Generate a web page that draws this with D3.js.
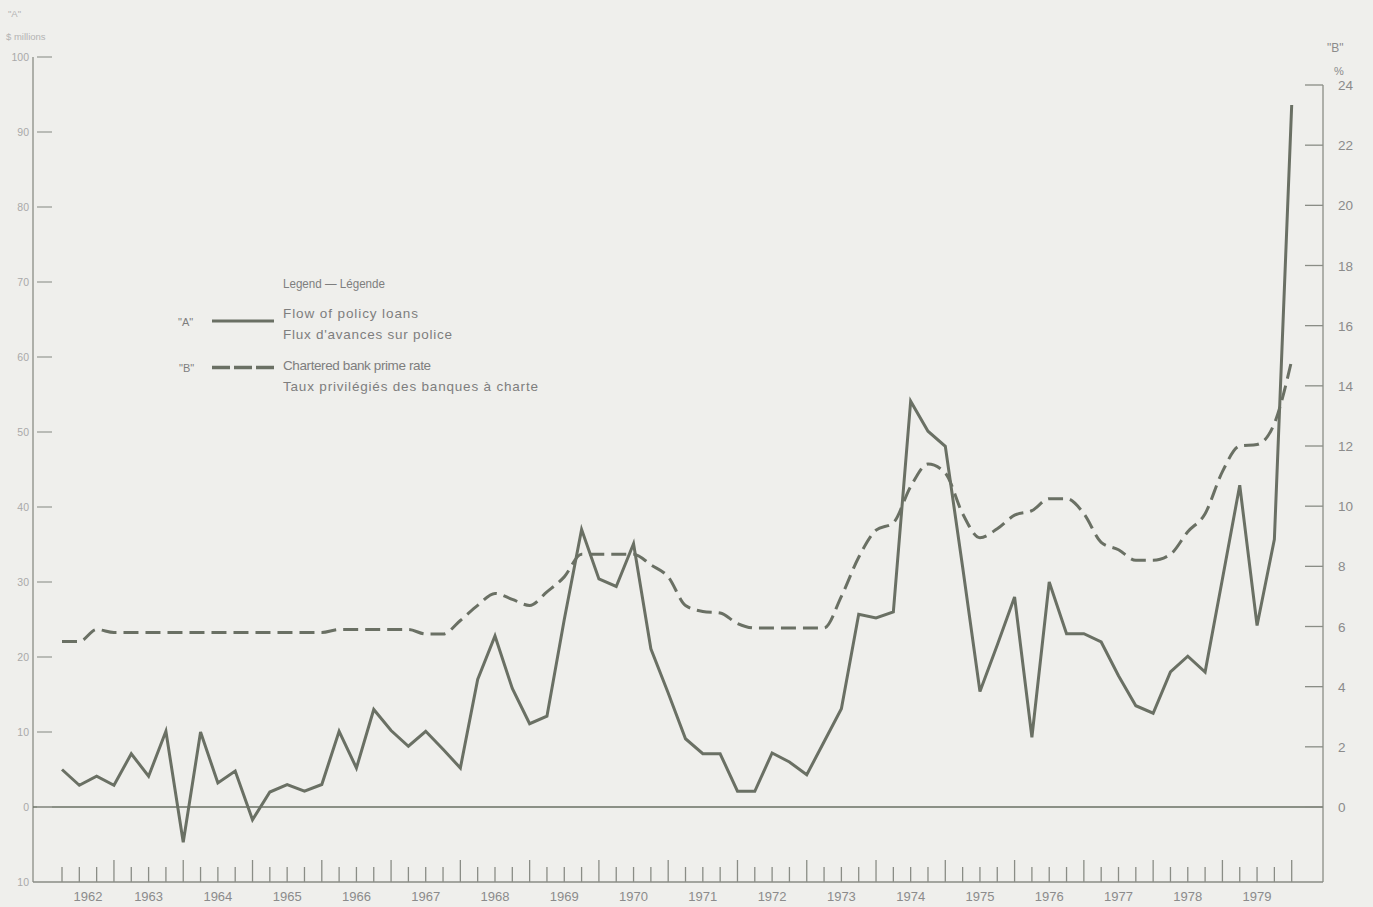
<!DOCTYPE html>
<html>
<head>
<meta charset="utf-8">
<script src="https://cdn.jsdelivr.net/npm/d3@7"></script>
<style>
  html, body { margin: 0; padding: 0; background: #efefec; }
  svg { display: block; }
  text { font-family: "Liberation Sans", Arial, Helvetica, sans-serif; }
</style>
</head>
<body>
<svg id="chart" width="1373" height="907"></svg>
<script>
// ---- Data (quarterly, 1962 Q1 – 1979 Q4) ----
const years = [1962,1963,1964,1965,1966,1967,1968,1969,1970,1971,1972,1973,1974,1975,1976,1977,1978,1979];
const quarterNames = ["Q1","Q2","Q3","Q4"];

// "A" Flow of policy loans, $ millions
const flowA = [
  5.0, 2.9, 4.1, 2.9,   7.1, 4.1, 10.1, -4.7,  10.0, 3.2, 4.8, -1.7,
  2.0, 3.0, 2.1, 3.0,   10.1, 5.2, 13.0, 10.2, 8.1, 10.1, 7.7, 5.2,
  17.0, 22.8, 15.8, 11.1, 12.1, 25.0, 37.0, 30.4, 29.4, 35.1, 21.1, 15.2,
  9.1, 7.1, 7.1, 2.1,   2.1, 7.2, 6.0, 4.3,   8.7, 13.1, 25.7, 25.2,
  26.0, 54.1, 50.1, 48.1, 32.0, 15.4, 21.6, 28.0, 9.3, 30.0, 23.1, 23.1,
  22.0, 17.5, 13.5, 12.5, 18.0, 20.1, 18.0, 30.4, 42.9, 24.2, 35.7, 93.6
];

// "B" Chartered bank prime rate, %
const primeB = [
  5.5, 5.5, 5.9, 5.8,   5.8, 5.8, 5.8, 5.8,   5.8, 5.8, 5.8, 5.8,
  5.8, 5.8, 5.8, 5.8,   5.9, 5.9, 5.9, 5.9,   5.9, 5.75, 5.75, 6.2,
  6.7, 7.1, 6.9, 6.7,   7.15, 7.65, 8.4, 8.4, 8.4, 8.4, 8.05, 7.65,
  6.7, 6.5, 6.45, 6.1,  5.95, 5.95, 5.95, 5.95, 5.95, 7.0, 8.3, 9.2,
  9.45, 10.65, 11.4, 11.1, 9.75, 8.95, 9.25, 9.7, 9.85, 10.25, 10.25, 9.75,
  8.8, 8.55, 8.2, 8.2,  8.4, 9.15, 9.75, 11.15, 12.0, 12.05, 12.75, 14.85
];

const leftTicks = [100, 90, 80, 70, 60, 50, 40, 30, 20, 10, 0, -10];
const leftTickLabels = ["100","90","80","70","60","50","40","30","20","10","0","10"];
const rightTicks = [24, 22, 20, 18, 16, 14, 12, 10, 8, 6, 4, 2, 0];

const legendTitle = "Legend — Légende";
const legendA = ["Flow of policy loans", "Flux d'avances sur police"];
const legendB = ["Chartered bank prime rate", "Taux privilégiés des banques à charte"];

// Period positions: end of each quarter
const periods = [];
years.forEach(y => quarterNames.forEach((q, qi) => periods.push({ year: y, q: q, t: y + (qi + 1) / 4 })));

// ---- Layout ----
const svg = d3.select("#chart");
const lineColor = "#6a7064";
const axisColor = "#8a8d86";
const textColor = "#8b8b8b";

const xLeft = 33, xRight = 1323, yBottom = 882;
const x = d3.scaleLinear().domain([1962.25, 1980.0]).range([62, 1291.7]);
const yL = d3.scaleLinear().domain([-10, 100]).range([yBottom, 57]);
const yR = d3.scaleLinear().domain([0, 24]).range([807, 85]);

// ---- Axes frame ----
svg.append("line").attr("x1", xLeft).attr("x2", xLeft).attr("y1", yL(100)).attr("y2", yBottom)
  .attr("stroke", axisColor).attr("stroke-width", 1.3);
svg.append("line").attr("x1", xRight).attr("x2", xRight).attr("y1", yR(24)).attr("y2", yBottom)
  .attr("stroke", axisColor).attr("stroke-width", 1.3);
svg.append("line").attr("x1", xLeft).attr("x2", xRight).attr("y1", yBottom).attr("y2", yBottom)
  .attr("stroke", axisColor).attr("stroke-width", 1.5);
svg.append("line").attr("x1", xLeft).attr("x2", xRight).attr("y1", yL(0)).attr("y2", yL(0))
  .attr("stroke", lineColor).attr("stroke-width", 1.6);

// Left axis ticks and labels
const gL = svg.append("g");
gL.selectAll("line.lt").data(leftTicks.filter(v => v >= 0)).enter().append("line")
  .attr("x1", xLeft + 4).attr("x2", xLeft + 19)
  .attr("y1", d => yL(d)).attr("y2", d => yL(d))
  .attr("stroke", "#a3a59f").attr("stroke-width", 1.4);
gL.selectAll("text").data(leftTicks).enter().append("text")
  .attr("x", 29).attr("y", d => yL(d) + 4)
  .attr("text-anchor", "end").attr("font-size", 10.5).attr("fill", "#a9a9a9")
  .text((d, i) => leftTickLabels[i]);

// Right axis ticks and labels
const gR = svg.append("g");
gR.selectAll("line").data(rightTicks).enter().append("line")
  .attr("x1", xRight - 18).attr("x2", xRight)
  .attr("y1", d => yR(d)).attr("y2", d => yR(d))
  .attr("stroke", axisColor).attr("stroke-width", 1.3);
gR.selectAll("text").data(rightTicks).enter().append("text")
  .attr("x", 1338).attr("y", d => yR(d) + 5)
  .attr("text-anchor", "start").attr("font-size", 13.5).attr("fill", textColor)
  .text(d => d);

// Axis titles
svg.append("text").attr("x", 8).attr("y", 17).attr("font-size", 9.5).attr("fill", "#b3b3b3").text('"A"');
svg.append("text").attr("x", 6).attr("y", 40).attr("font-size", 9.5).attr("fill", "#b3b3b3").text("$ millions");
svg.append("text").attr("x", 1327).attr("y", 52).attr("font-size", 12).attr("fill", textColor).text('"B"');
svg.append("text").attr("x", 1334).attr("y", 75).attr("font-size", 11).attr("fill", textColor).text("%");

// Bottom quarterly ticks
const gX = svg.append("g");
gX.selectAll("line").data(periods).enter().append("line")
  .attr("x1", d => x(d.t)).attr("x2", d => x(d.t))
  .attr("y1", yBottom).attr("y2", d => d.q === "Q4" ? yBottom - 22 : yBottom - 15)
  .attr("stroke", axisColor).attr("stroke-width", 1.3);
gX.selectAll("text").data(years).enter().append("text")
  .attr("x", d => x((Math.max(d, 1962.25) + d + 1) / 2))
  .attr("y", 901).attr("text-anchor", "middle").attr("font-size", 13).attr("fill", textColor)
  .text(d => d);

// ---- Series ----
const lineA = d3.line().x((d, i) => x(periods[i].t)).y(d => yL(d)).curve(d3.curveLinear);
const lineB = d3.line().x((d, i) => x(periods[i].t)).y(d => yR(d)).curve(d3.curveMonotoneX);

svg.append("path").datum(primeB).attr("d", lineB)
  .attr("fill", "none").attr("stroke", lineColor).attr("stroke-width", 3)
  .attr("stroke-dasharray", "15,7");
svg.append("path").datum(flowA).attr("d", lineA)
  .attr("fill", "none").attr("stroke", lineColor).attr("stroke-width", 3)
  .attr("stroke-linejoin", "miter").attr("stroke-miterlimit", 4);

// ---- Legend ----
const lg = svg.append("g").attr("font-size", 13.5).attr("fill", "#7e7e7e");
lg.append("text").attr("x", 283).attr("y", 288).attr("font-size", 12.5)
  .attr("textLength", 102).attr("lengthAdjust", "spacingAndGlyphs").text(legendTitle);
lg.append("text").attr("x", 178).attr("y", 326).attr("font-size", 11).text('"A"');
lg.append("line").attr("x1", 212).attr("x2", 274).attr("y1", 321).attr("y2", 321)
  .attr("stroke", lineColor).attr("stroke-width", 3);
lg.append("text").attr("x", 283).attr("y", 318).attr("textLength", 135).attr("lengthAdjust", "spacing").text(legendA[0]);
lg.append("text").attr("x", 283).attr("y", 339).attr("textLength", 169).attr("lengthAdjust", "spacing").text(legendA[1]);
lg.append("text").attr("x", 179).attr("y", 372).attr("font-size", 11).text('"B"');
lg.append("line").attr("x1", 212).attr("x2", 274).attr("y1", 367.5).attr("y2", 367.5)
  .attr("stroke", lineColor).attr("stroke-width", 3.5).attr("stroke-dasharray", "18,4");
lg.append("text").attr("x", 283).attr("y", 370).attr("textLength", 148).attr("lengthAdjust", "spacing").text(legendB[0]);
lg.append("text").attr("x", 283).attr("y", 391).attr("textLength", 255).attr("lengthAdjust", "spacing").text(legendB[1]);
</script>
</body>
</html>
